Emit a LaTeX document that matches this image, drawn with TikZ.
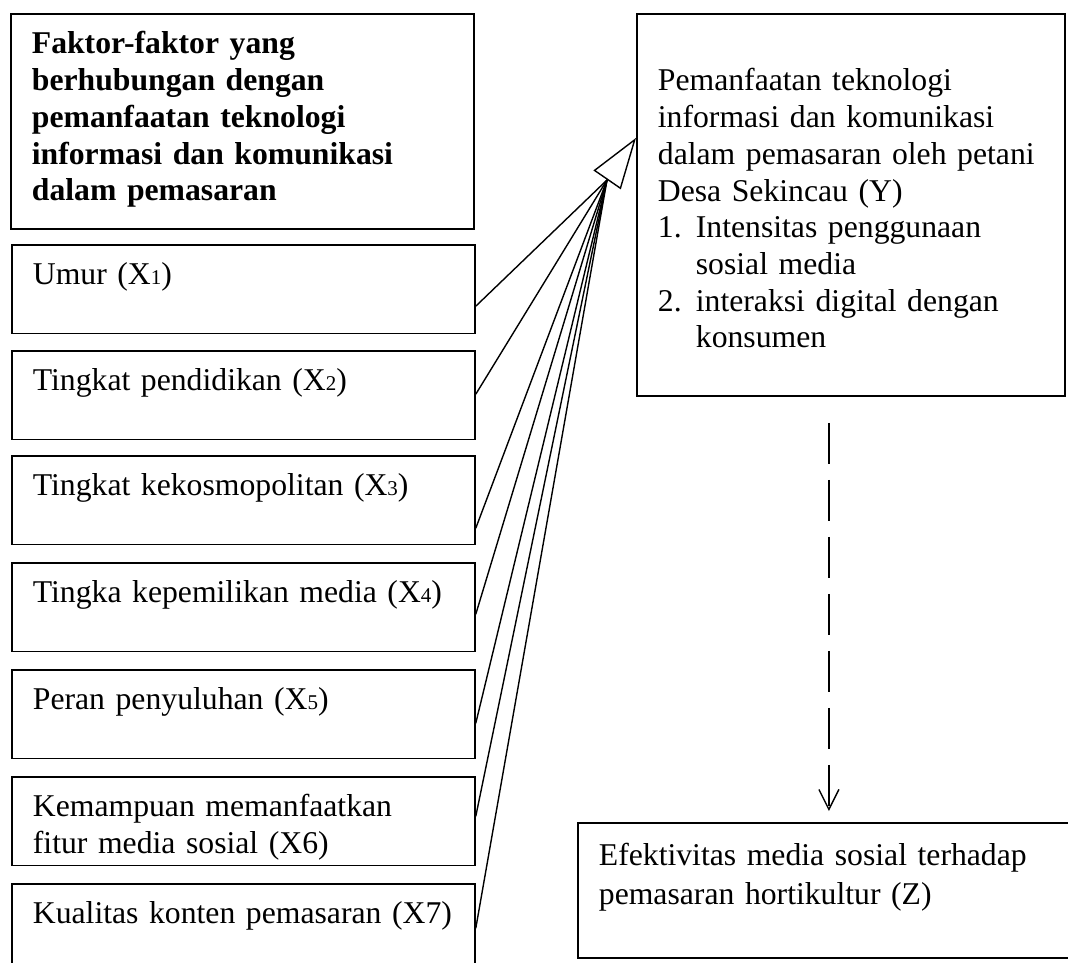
\documentclass[tikz,border=0pt]{standalone}
\usepackage{fontspec}
\setmainfont{Liberation Serif}
\usetikzlibrary{arrows.meta}

\newcommand{\kecil}[1]{{\fontsize{21}{21}\selectfont #1}}

\tikzset{
    kotak/.style={draw, line width=1.8pt, anchor=north west, align=left,
        inner xsep=21pt, inner ysep=0pt, text width=421pt,
        text height=40pt, text depth=48.5pt,
        font=\fontsize{31.7}{36.7}\selectfont},
    garis/.style={line width=1.4pt},
}

\begin{document}
\begin{tikzpicture}[x=1pt, y=-1pt]
    \useasboundingbox (0,0) rectangle (1068,962);

    % Judul faktor
    \node[kotak, text height=40pt, text depth=175pt,
          font=\fontsize{31.7}{36.7}\selectfont\bfseries] (judul) at (10,13)
        {Faktor-faktor yang\\ berhubungan dengan\\ pemanfaatan teknologi\\
         informasi dan komunikasi\\ dalam pemasaran};

    % Variabel X
    \foreach \n/\y/\teks in {1/244/{Umur (X\kecil{1})},
            2/350/{Tingkat pendidikan (X\kecil{2})},
            3/455/{Tingkat kekosmopolitan (X\kecil{3})},
            4/562/{Tingka kepemilikan media (X\kecil{4})},
            5/669/{Peran penyuluhan (X\kecil{5})},
            6/776/{Kemampuan memanfaatkan\\ fitur media sosial (X6)},
            7/883/{Kualitas konten pemasaran (X7)}}
        \node[kotak] (X\n) at (11,\y) {\teks};

    % Variabel Y
    \node[kotak, text width=386pt, text height=77pt, text depth=305pt] (Y) at (636,13)
        {Pemanfaatan teknologi\\ informasi dan komunikasi\\
         dalam pemasaran oleh petani\\ Desa Sekincau (Y)\\
         \makebox[38pt][l]{1.}Intensitas penggunaan\\ \hspace*{38pt}sosial media\\
         \makebox[38pt][l]{2.}interaksi digital dengan\\ \hspace*{38pt}konsumen};

    % Variabel Z
    \node[kotak, text width=460pt, text height=43pt, text depth=92pt,
          font=\fontsize{31.7}{38.3}\selectfont] (Z) at (577,822)
        {Efektivitas media sosial terhadap\\ pemasaran hortikultur (Z)};

    % Garis X ke Y
    \coordinate (hub) at (607,180);
    \foreach \n/\dy in {1/-17, 2/1, 3/-28, 4/-7, 5/-9, 6/5, 7/0}
        \draw[garis] ([yshift=\dy pt]X\n.east) -- (hub);
    \draw[garis, -{Triangle[open, length=51pt, width=33pt]}] (hub) -- ([yshift=67pt]Y.west);

    % Y ke Z
    \draw[garis, dash pattern=on 41pt off 16pt, shorten <=26pt, shorten >=11pt,
          -{Straight Barb[length=20pt, width=20pt]}] (Y.south -| Z.north) -- (Z.north);
\end{tikzpicture}
\end{document}
